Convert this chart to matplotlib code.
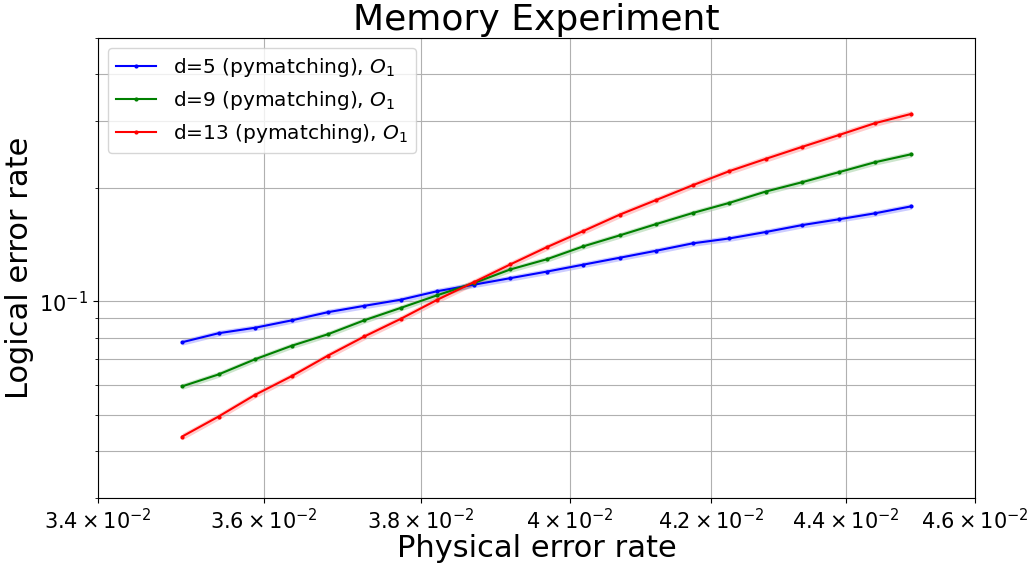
import numpy as np
import matplotlib
matplotlib.use('Agg')
import matplotlib.pyplot as plt

# physical error rates (log spaced, 21 points)
P_MIN = 0.035
P_MAX = 0.045
N_POINTS = 21

DISTANCES = [5, 9, 13]
COLORS = ['blue', 'green', 'red']

LER_D5 = [0.0778, 0.0822, 0.0850, 0.0889, 0.0935, 0.0972, 0.1009, 0.1063, 0.1106, 0.1151, 0.1198,
          0.1250, 0.1304, 0.1361, 0.1424, 0.1467, 0.1526, 0.1592, 0.1649, 0.1711, 0.1786]
LER_D9 = [0.0594, 0.0639, 0.0701, 0.0761, 0.0817, 0.0890, 0.0960, 0.1037, 0.1117, 0.1214, 0.1292,
          0.1398, 0.1495, 0.1602, 0.1714, 0.1823, 0.1954, 0.2069, 0.2199, 0.2338, 0.2456]
LER_D13 = [0.0437, 0.0494, 0.0564, 0.0632, 0.0717, 0.0806, 0.0898, 0.1009, 0.1123, 0.1252, 0.1391,
           0.1535, 0.1697, 0.1856, 0.2031, 0.2213, 0.2386, 0.2568, 0.2759, 0.2969, 0.3143]
REL_ERR = [0.018, 0.018, 0.02]  # rough width of the shaded band

X_TICKS = [0.034, 0.036, 0.038, 0.040, 0.042, 0.044, 0.046]
X_TICK_LABELS = [r'$3.4\times10^{-2}$', r'$3.6\times10^{-2}$', r'$3.8\times10^{-2}$', r'$4\times10^{-2}$',
                 r'$4.2\times10^{-2}$', r'$4.4\times10^{-2}$', r'$4.6\times10^{-2}$']


def main():
    p = np.logspace(np.log10(P_MIN), np.log10(P_MAX), N_POINTS)
    all_ler = [LER_D5, LER_D9, LER_D13]

    fig, ax = plt.subplots(figsize=(10.32, 5.66), dpi=100)
    fig.subplots_adjust(left=0.095, right=0.945, top=0.933, bottom=0.12)

    for d, ler, c, err in zip(DISTANCES, all_ler, COLORS, REL_ERR):
        ler = np.array(ler)
        ax.plot(p, ler, color=c, marker='.', markersize=4, linewidth=1.5,
                label='d=%d (pymatching), $O_1$' % d)
        ax.fill_between(p, ler * (1 - err), ler * (1 + err), color=c, alpha=0.2, linewidth=0)

    ax.set_xscale('log')
    ax.set_yscale('log')
    ax.set_xlim(0.034, 0.046)
    ax.set_ylim(0.03, 0.5)
    ax.set_xticks(X_TICKS)
    ax.set_xticks([], minor=True)
    ax.set_xticklabels(X_TICK_LABELS)
    ax.tick_params(axis='both', labelsize=15)

    ax.grid(True, which='both', color='#b0b0b0', linewidth=0.8)
    ax.set_title('Memory Experiment', fontsize=26)
    ax.set_xlabel('Physical error rate', fontsize=22, labelpad=1)
    ax.set_ylabel('Logical error rate', fontsize=22)
    ax.legend(loc='upper left', fontsize=14.5)

    plt.savefig('out.png')


if __name__ == '__main__':
    main()
